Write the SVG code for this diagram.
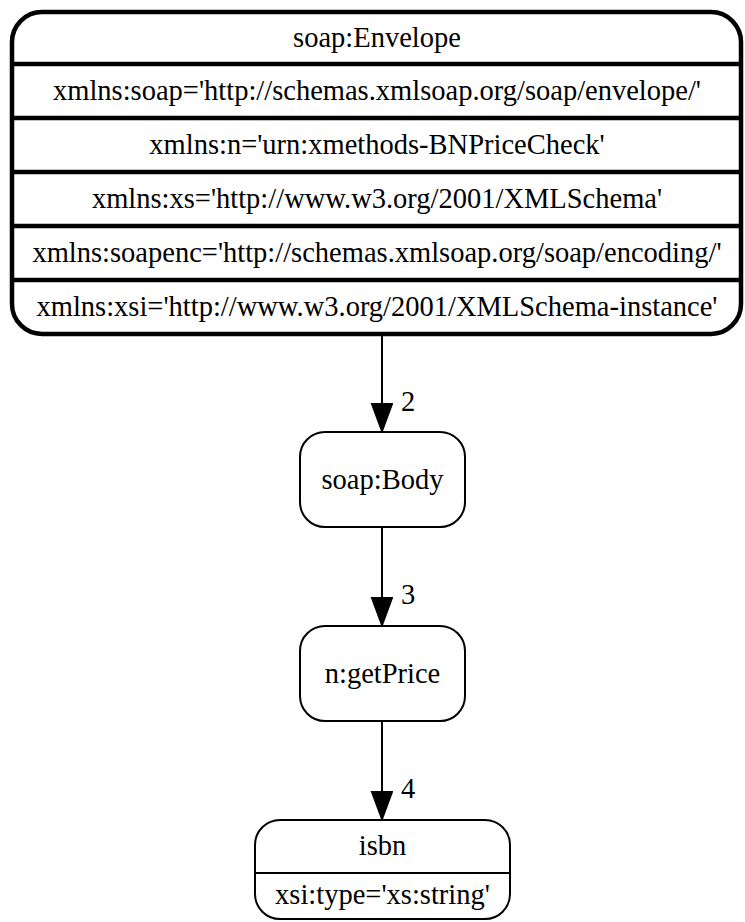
<svg xmlns="http://www.w3.org/2000/svg" width="745" height="922" viewBox="0 0 745 922">
  <style>
    text { font-family: "Liberation Serif", Tinos, "Noto Serif", "DejaVu Serif", FreeSerif, "Times New Roman", serif; font-size: 28.5px; fill: #000; text-anchor: middle; }
    .lbl { text-anchor: start; }
    .box { fill: #fff; stroke: #000; stroke-width: 2; }
    .bold { fill: #fff; stroke: #000; stroke-width: 4.5; }
    .sep { stroke: #000; stroke-width: 2; }
    .sepb { stroke: #000; stroke-width: 4.5; }
    .edge { stroke: #000; stroke-width: 2; fill: none; marker-end: url(#arrow); }
  </style>
  <defs>
    <marker id="arrow" markerUnits="userSpaceOnUse" markerWidth="30" markerHeight="24" refX="28" refY="11" orient="auto">
      <path d="M1,1 L28,11 L1,21 Z" fill="#000" stroke="#000" stroke-width="2"/>
    </marker>
  </defs>

  <!-- envelope record with its namespace declarations -->
  <g id="envelope">
    <rect class="bold" x="12" y="12" width="729" height="322" rx="30" ry="30"/>
    <line class="sepb" x1="12" y1="64" x2="741" y2="64"/>
    <line class="sepb" x1="12" y1="118" x2="741" y2="118"/>
    <line class="sepb" x1="12" y1="172" x2="741" y2="172"/>
    <line class="sepb" x1="12" y1="226" x2="741" y2="226"/>
    <line class="sepb" x1="12" y1="280" x2="741" y2="280"/>
    <text x="377" y="47">soap:Envelope</text>
    <text x="377" y="100">xmlns:soap='http://schemas.xmlsoap.org/soap/envelope/'</text>
    <text x="377" y="154">xmlns:n='urn:xmethods-BNPriceCheck'</text>
    <text x="377" y="208">xmlns:xs='http://www.w3.org/2001/XMLSchema'</text>
    <text x="377" y="262">xmlns:soapenc='http://schemas.xmlsoap.org/soap/encoding/'</text>
    <text x="377" y="316">xmlns:xsi='http://www.w3.org/2001/XMLSchema-instance'</text>
  </g>

  <g id="body">
    <rect class="box" x="300" y="432" width="165" height="95" rx="25" ry="25"/>
    <text x="382.5" y="489">soap:Body</text>
  </g>

  <g id="getPrice">
    <rect class="box" x="300" y="626" width="165" height="95" rx="25" ry="25"/>
    <text x="382.5" y="683">n:getPrice</text>
  </g>

  <g id="isbn">
    <rect class="box" x="255" y="820" width="255" height="99" rx="25" ry="25"/>
    <line class="sep" x1="255" y1="873" x2="510" y2="873"/>
    <text x="382.5" y="855">isbn</text>
    <text x="382.5" y="904">xsi:type='xs:string'</text>
  </g>

  <!-- parent to child links, numbered -->
  <g id="edges">
    <line class="edge" x1="382" y1="336" x2="382" y2="431"/>
    <text class="lbl" x="401" y="411">2</text>
    <line class="edge" x1="382" y1="527" x2="382" y2="625"/>
    <text class="lbl" x="401" y="604">3</text>
    <line class="edge" x1="382" y1="721" x2="382" y2="819"/>
    <text class="lbl" x="401" y="798">4</text>
  </g>
</svg>
